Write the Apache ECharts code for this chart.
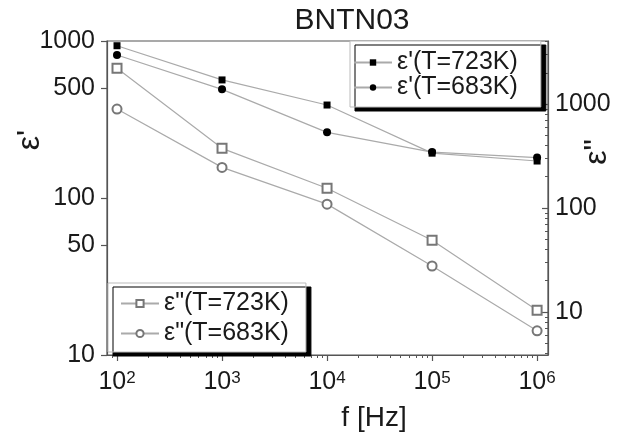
<!DOCTYPE html>
<html><head><meta charset="utf-8">
<script src="https://cdn.jsdelivr.net/npm/echarts@6/dist/echarts.min.js"></script>
<style>html,body{margin:0;padding:0;background:#fff}#c{width:630px;height:436px}</style>
</head><body><div id="c"></div>
<script>
// ---- data ----
const freq = [1e2, 1e3, 1e4, 1e5, 1e6];
const epsReal723 = [933, 565, 391, 193, 172];
const epsReal683 = [814, 492, 262, 196, 181];
const epsImag723 = [2205, 375, 155, 49, 10.4];
const epsImag683 = [895, 246, 109, 27.7, 6.6];
const seriesNames = ["ε'(T=723K)", "ε'(T=683K)", 'ε"(T=723K)', 'ε"(T=683K)'];
// ---- ticks ----
const xMajorTicks = [1e2, 1e3, 1e4, 1e5, 1e6];
const xMinorTicks = [90, 200, 300, 400, 500, 600, 700, 800, 900, 2000, 3000, 4000, 5000, 6000, 7000, 8000, 9000,
  2e4, 3e4, 4e4, 5e4, 6e4, 7e4, 8e4, 9e4, 2e5, 3e5, 4e5, 5e5, 6e5, 7e5, 8e5, 9e5];
const leftTicks = [10, 50, 100, 500, 1000];
const rightTicks = [10, 100, 1000];
const rightMinorTicks = [4, 5, 6, 7, 8, 9, 20, 30, 40, 50, 60, 70, 80, 90, 200, 300, 400, 500, 600, 700, 800, 900, 2000, 3000, 4000];

const FONT = 'Liberation Sans';
const TXT = '#1a1a1a';
const AX = '#555';

const pairs = arr => freq.map((f, i) => [f, arr[i]]);
const plain = v => String(Math.round(v));

const chart = echarts.init(document.getElementById('c'));
const xBase = {type: 'log', min: 80.3, max: 1.27e6, position: 'bottom', splitLine: {show: false}};
const yRightBase = {type: 'log', min: 3.86, max: 4040, position: 'right', splitLine: {show: false}};
chart.setOption({
  animation: false,
  backgroundColor: '#fff',
  grid: {left: 107, top: 41, width: 441, height: 314, show: true, borderColor: AX, borderWidth: 1.2, containLabel: false},
  xAxis: [
    Object.assign({}, xBase, {
      axisLine: {show: true, lineStyle: {color: AX, width: 1.2}},
      axisTick: {show: true, customValues: xMajorTicks, length: 6, lineStyle: {color: AX, width: 1.2}},
      axisLabel: {customValues: xMajorTicks, margin: 15, color: TXT,
        formatter: v => '{b|10}{s|' + Math.round(Math.log10(v)) + '}',
        rich: {b: {fontSize: 25, fontFamily: FONT, color: TXT}, s: {fontSize: 17, fontFamily: FONT, color: TXT, verticalAlign: 'top'}}}
    }),
    Object.assign({}, xBase, {
      axisLine: {show: false},
      axisTick: {show: true, customValues: xMinorTicks, length: 3, lineStyle: {color: AX, width: 1}},
      axisLabel: {show: false}
    })
  ],
  yAxis: [
    {type: 'log', min: 10, max: 1000, position: 'left', splitLine: {show: false},
      axisLine: {show: true, lineStyle: {color: AX, width: 1.2}},
      axisTick: {show: true, customValues: leftTicks, length: 6, lineStyle: {color: AX, width: 1.2}},
      axisLabel: {customValues: leftTicks, formatter: plain, margin: 12, color: TXT, fontSize: 25, fontFamily: FONT}},
    Object.assign({}, yRightBase, {
      axisLine: {show: true, lineStyle: {color: AX, width: 1.2}},
      axisTick: {show: true, inside: true, customValues: rightTicks, length: 6, lineStyle: {color: AX, width: 1.2}},
      axisLabel: {customValues: rightTicks, formatter: plain, margin: 7, color: TXT, fontSize: 25, fontFamily: FONT}
    }),
    Object.assign({}, yRightBase, {
      axisLine: {show: false},
      axisTick: {show: true, inside: true, customValues: rightMinorTicks, length: 3, lineStyle: {color: AX, width: 1}},
      axisLabel: {show: false}
    })
  ],
  legend: [
    {data: [seriesNames[0], seriesNames[1]], orient: 'vertical', left: 350, top: 41,
      padding: [9, 23, 7, 3], itemWidth: 38, itemHeight: 8, itemGap: 0,
      backgroundColor: '#fff', borderColor: '#bbb', borderWidth: 1,
      shadowColor: '#000', shadowOffsetX: 5, shadowOffsetY: 4, shadowBlur: 0,
      textStyle: {fontSize: 25, fontFamily: FONT, color: TXT}},
    {data: [seriesNames[2], seriesNames[3]], orient: 'vertical', left: 108, top: 283,
      padding: [8, 17, 6, 12], itemWidth: 38, itemHeight: 9, itemGap: 5,
      backgroundColor: '#fff', borderColor: '#bbb', borderWidth: 1,
      shadowColor: '#000', shadowOffsetX: 5, shadowOffsetY: 4, shadowBlur: 0,
      textStyle: {fontSize: 25, fontFamily: FONT, color: TXT}}
  ],
  graphic: [
    {type: 'text', x: 352, y: 21, style: {text: 'BNTN03', font: '30px "Liberation Sans"', fill: TXT, align: 'center', verticalAlign: 'middle'}},
    {type: 'text', x: 374, y: 418, style: {text: 'f [Hz]', font: '28px "Liberation Sans"', fill: TXT, align: 'center', verticalAlign: 'middle'}},
    {type: 'text', x: 30, y: 140, rotation: Math.PI / 2, style: {text: "ε'", font: '32px "Liberation Sans"', fill: TXT, align: 'center', verticalAlign: 'middle'}},
    {type: 'text', x: 597, y: 152, rotation: Math.PI / 2, style: {text: 'ε"', font: '32px "Liberation Sans"', fill: TXT, align: 'center', verticalAlign: 'middle'}}
  ],
  series: [
    {name: seriesNames[0], type: 'line', xAxisIndex: 0, yAxisIndex: 0, data: pairs(epsReal723),
      symbol: 'rect', symbolSize: 7, itemStyle: {color: '#000'}, lineStyle: {color: '#aaa', width: 1.2}, z: 4},
    {name: seriesNames[1], type: 'line', xAxisIndex: 0, yAxisIndex: 0, data: pairs(epsReal683),
      symbol: 'circle', symbolSize: 8, itemStyle: {color: '#000'}, lineStyle: {color: '#aaa', width: 1.2}, z: 4},
    {name: seriesNames[2], type: 'line', xAxisIndex: 0, yAxisIndex: 1, data: pairs(epsImag723),
      symbol: 'emptyRect', symbolSize: 9, itemStyle: {color: '#777', borderWidth: 1.3}, lineStyle: {color: '#aaa', width: 1.2}, z: 3},
    {name: seriesNames[3], type: 'line', xAxisIndex: 0, yAxisIndex: 1, data: pairs(epsImag683),
      symbol: 'emptyCircle', symbolSize: 9, itemStyle: {color: '#777', borderWidth: 1.3}, lineStyle: {color: '#aaa', width: 1.2}, z: 3}
  ]
});
</script></body></html>
